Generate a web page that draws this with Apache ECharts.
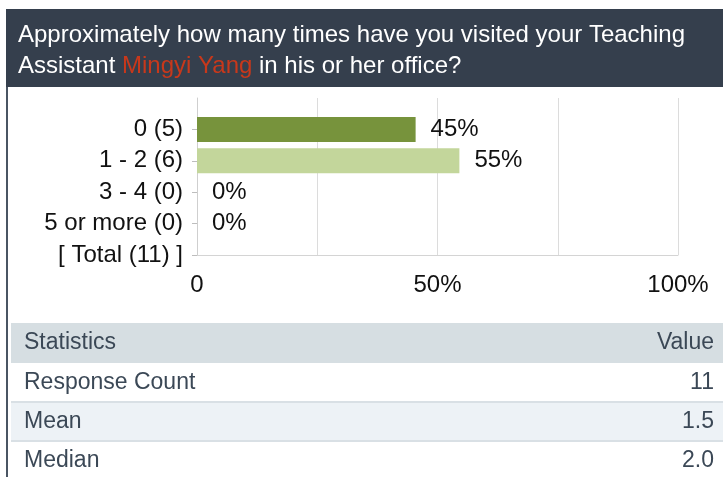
<!DOCTYPE html>
<html>
<head>
<meta charset="utf-8">
<script src="https://cdn.jsdelivr.net/npm/echarts@6/dist/echarts.min.js"></script>
<style>
  html, body { margin: 0; padding: 0; background: #fff; }
  #chart { width: 723px; height: 477px; }
</style>
</head>
<body>
<div id="chart"></div>
<script>
// answer options, top to bottom
const categories = ['0 (5)', '1 - 2 (6)', '3 - 4 (0)', '5 or more (0)', '[ Total (11) ]']
// percent of responses per option (no bar for the total row)
const percents = [45.45, 54.55, 0, 0]
const barColors = ['#77933c', '#c3d69b', '#77933c', '#c3d69b']
const xTicks = [0, 50, 100]

const statLabels = ['Response Count', 'Mean', 'Median']
const statValues = ['11', '1.5', '2.0']

const font = "'Liberation Sans', Arial, sans-serif"

const chart = echarts.init(document.getElementById('chart'))

// header band, left border and stats table as graphic elements
const table = [
  {type: 'rect', shape: {x: 6, y: 9, width: 717, height: 78}, style: {fill: '#353f4d'}, silent: true},
  {type: 'rect', shape: {x: 6, y: 87, width: 2, height: 390}, style: {fill: '#4a5563'}, silent: true},
  {type: 'rect', shape: {x: 11, y: 323, width: 712, height: 40}, style: {fill: '#d6dee2'}, silent: true},
  {type: 'text', left: 24, top: 331, style: {text: 'Statistics', fill: '#3b4856', font: '23px ' + font}},
  {type: 'text', right: 9, top: 331, style: {text: 'Value', fill: '#3b4856', font: '23px ' + font}},
]
const rowBg = ['#ffffff', '#edf2f6', '#ffffff']
statLabels.forEach((name, i) => {
  const y = 363 + i * 39
  table.push({type: 'rect', shape: {x: 11, y: y, width: 712, height: 39}, style: {fill: rowBg[i]}, silent: true})
  if (i > 0) {
    table.push({type: 'rect', shape: {x: 11, y: y - 1, width: 712, height: 2}, style: {fill: '#d9e0e5'}, silent: true})
  }
  table.push({type: 'text', left: 24, top: y + 8, style: {text: name, fill: '#3b4856', font: '23px ' + font}})
  table.push({type: 'text', right: 9, top: y + 8, style: {text: statValues[i], fill: '#3b4856', font: '23px ' + font}})
})

chart.setOption({
  animation: false,
  textStyle: {fontFamily: font},
  title: {
    left: 18,
    top: 20,
    padding: 0,
    text: '{w|Approximately how many times have you visited your Teaching}\n{w|Assistant }{r|Mingyi Yang}{w| in his or her office?}',
    textStyle: {
      fontWeight: 'normal',
      rich: {
        w: {color: '#ffffff', fontSize: 24, lineHeight: 31, fontWeight: 'normal', fontFamily: font},
        r: {color: '#c8381b', fontSize: 24, lineHeight: 31, fontWeight: 'normal', fontFamily: font},
      },
    },
  },
  graphic: table,
  grid: {left: 197, right: 45, top: 98, bottom: 222, containLabel: false},
  xAxis: {
    type: 'value',
    min: 0,
    max: 100,
    interval: 25,
    axisLine: {show: true, lineStyle: {color: '#d4d4d4'}},
    axisTick: {show: false},
    splitLine: {show: true, lineStyle: {color: '#dcdcdc'}},
    axisLabel: {
      color: '#111',
      fontSize: 24,
      margin: 18,
      formatter: v => xTicks.includes(v) ? (v === 0 ? '0' : v + '%') : '',
    },
  },
  yAxis: {
    type: 'category',
    inverse: true,
    boundaryGap: false,
    data: [''].concat(categories),
    axisLine: {show: true, lineStyle: {color: '#cfcfcf'}},
    axisTick: {show: true, length: 5, interval: i => i > 0, lineStyle: {color: '#bdbdbd'}},
    axisLabel: {color: '#111', fontSize: 24, margin: 14, interval: 0},
    splitLine: {show: false},
  },
  series: [{
    type: 'bar',
    barWidth: 25,
    data: ['-'].concat(percents.map((v, i) => ({value: v, itemStyle: {color: barColors[i]}}))),
    label: {
      show: true,
      position: 'right',
      distance: 15,
      color: '#111',
      fontSize: 24,
      formatter: p => Math.round(p.value) + '%',
    },
  }],
})
</script>
</body>
</html>
